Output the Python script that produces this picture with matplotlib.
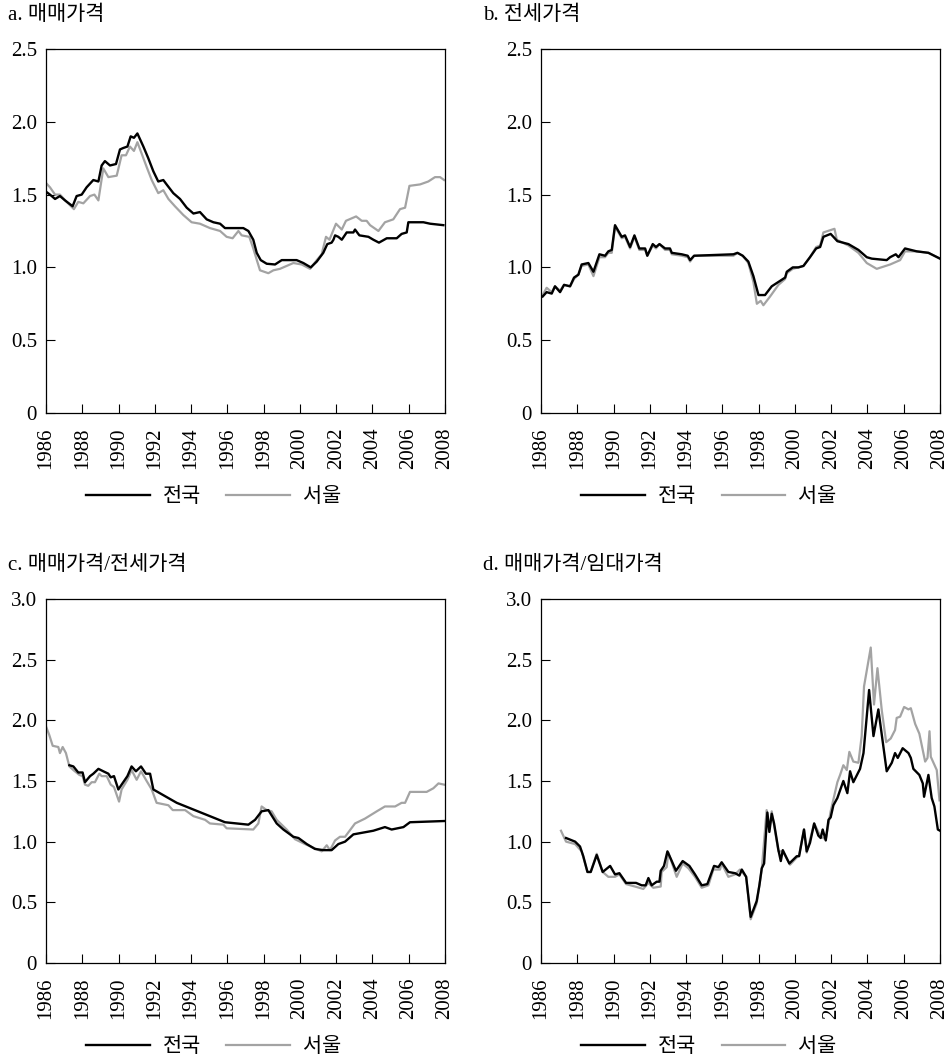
import matplotlib
matplotlib.use("Agg")
import matplotlib.pyplot as plt

plt.rcParams['font.family'] = ['Liberation Serif', 'Noto Sans CJK KR']
plt.rcParams['font.size'] = 15

# a. 매매가격
a_nat_year = [1986.00, 1986.22, 1986.50, 1986.77, 1987.05, 1987.47, 1987.69, 1987.97, 1988.24, 1988.61,
              1988.89, 1989.07, 1989.25, 1989.53, 1989.86, 1990.08, 1990.26, 1990.49, 1990.67, 1990.85,
              1991.04, 1991.37, 1991.64, 1991.92, 1992.19, 1992.47, 1992.65, 1993.02, 1993.39, 1993.76,
              1994.13, 1994.49, 1994.86, 1995.23, 1995.60, 1995.87, 1996.88, 1997.16, 1997.43, 1997.62,
              1997.84, 1998.17, 1998.63, 1999.00, 1999.82, 2000.19, 2000.60, 2000.93, 2001.29, 2001.51,
              2001.75, 2001.85, 2001.94, 2002.12, 2002.31, 2002.58, 2002.95, 2003.04, 2003.28, 2003.78,
              2004.05, 2004.36, 2004.79, 2005.34, 2005.61, 2005.89, 2005.98, 2006.81, 2007.18, 2007.91]
a_nat = [1.52, 1.50, 1.47, 1.49, 1.46, 1.42, 1.49, 1.50, 1.55, 1.60,
         1.59, 1.70, 1.73, 1.70, 1.71, 1.81, 1.82, 1.83, 1.90, 1.89,
         1.92, 1.83, 1.75, 1.66, 1.59, 1.60, 1.57, 1.51, 1.47, 1.41,
         1.37, 1.38, 1.33, 1.31, 1.30, 1.27, 1.27, 1.25, 1.19, 1.10,
         1.05, 1.025, 1.02, 1.05, 1.05, 1.03, 1.00, 1.04, 1.10, 1.16,
         1.17, 1.19, 1.22, 1.21, 1.19, 1.24, 1.24, 1.26, 1.22, 1.21,
         1.19, 1.17, 1.20, 1.20, 1.23, 1.24, 1.31, 1.31, 1.30, 1.29]
a_seo_year = [1986.00, 1986.22, 1986.50, 1986.77, 1987.14, 1987.54, 1987.78, 1988.06, 1988.43, 1988.67,
              1988.89, 1989.16, 1989.44, 1989.90, 1990.17, 1990.41, 1990.63, 1990.85, 1991.04, 1991.28,
              1991.55, 1991.83, 1992.19, 1992.47, 1992.75, 1993.11, 1993.57, 1994.03, 1994.49, 1995.04,
              1995.60, 1995.96, 1996.29, 1996.61, 1996.79, 1997.21, 1997.43, 1997.65, 1997.80, 1998.26,
              1998.54, 1998.90, 1999.64, 2000.10, 2000.56, 2000.93, 2001.20, 2001.44, 2001.63, 2001.99,
              2002.31, 2002.54, 2003.10, 2003.41, 2003.68, 2003.87, 2004.33, 2004.69, 2005.15, 2005.52,
              2005.80, 2006.04, 2006.63, 2007.08, 2007.45, 2007.73, 2007.95]
a_seo = [1.58, 1.55, 1.50, 1.50, 1.45, 1.40, 1.45, 1.44, 1.49, 1.50,
         1.46, 1.68, 1.62, 1.63, 1.77, 1.77, 1.83, 1.80, 1.86, 1.78,
         1.69, 1.60, 1.51, 1.53, 1.47, 1.42, 1.36, 1.31, 1.30, 1.27,
         1.25, 1.21, 1.20, 1.25, 1.22, 1.21, 1.13, 1.04, 0.98, 0.96,
         0.98, 0.99, 1.03, 1.02, 0.99, 1.05, 1.09, 1.21, 1.19, 1.30,
         1.26, 1.32, 1.35, 1.32, 1.32, 1.29, 1.25, 1.31, 1.33, 1.40,
         1.41, 1.56, 1.57, 1.59, 1.62, 1.62, 1.60]

# b. 전세가격
b_nat_year = [1986.09, 1986.31, 1986.59, 1986.77, 1987.05, 1987.27, 1987.60, 1987.82, 1988.06, 1988.24,
              1988.61, 1988.89, 1989.22, 1989.53, 1989.71, 1989.90, 1990.08, 1990.45, 1990.63, 1990.91,
              1991.15, 1991.42, 1991.74, 1991.86, 1992.16, 1992.34, 1992.53, 1992.84, 1993.11, 1993.21,
              1993.76, 1994.09, 1994.22, 1994.44, 1996.61, 1996.83, 1997.12, 1997.43, 1997.71, 1997.99,
              1998.35, 1998.72, 1999.09, 1999.46, 1999.55, 1999.88, 2000.19, 2000.47, 2000.83, 2001.17,
              2001.39, 2001.57, 2001.97, 2002.12, 2002.34, 2002.95, 2003.50, 2003.96, 2004.24, 2005.06,
              2005.25, 2005.56, 2005.71, 2006.07, 2006.72, 2007.36, 2008.00]
b_nat = [0.80, 0.83, 0.82, 0.87, 0.83, 0.88, 0.87, 0.93, 0.95, 1.02,
         1.03, 0.97, 1.09, 1.08, 1.11, 1.12, 1.29, 1.21, 1.22, 1.14,
         1.22, 1.13, 1.13, 1.08, 1.16, 1.14, 1.16, 1.13, 1.13, 1.10,
         1.09, 1.08, 1.05, 1.08, 1.09, 1.10, 1.08, 1.04, 0.94, 0.81,
         0.81, 0.87, 0.90, 0.93, 0.97, 1.00, 1.00, 1.01, 1.07, 1.13,
         1.14, 1.21, 1.23, 1.21, 1.18, 1.16, 1.12, 1.07, 1.06, 1.05,
         1.07, 1.09, 1.07, 1.13, 1.11, 1.10, 1.06]
b_seo_year = [1986.09, 1986.31, 1986.59, 1986.77, 1987.05, 1987.27, 1987.60, 1987.82, 1988.06, 1988.24,
              1988.61, 1988.89, 1989.22, 1989.53, 1989.71, 1989.90, 1990.08, 1990.45, 1990.63, 1990.91,
              1991.15, 1991.42, 1991.74, 1991.86, 1992.16, 1992.34, 1992.53, 1992.84, 1993.11, 1993.21,
              1993.76, 1994.09, 1994.22, 1994.44, 1996.61, 1996.83, 1997.12, 1997.43, 1997.71, 1997.90,
              1998.11, 1998.26, 1998.63, 1999.09, 1999.46, 1999.55, 1999.88, 2000.19, 2000.47, 2000.83,
              2001.17, 2001.39, 2001.57, 2002.18, 2002.31, 2002.95, 2003.50, 2003.96, 2004.51, 2005.25,
              2005.80, 2006.07, 2006.72, 2007.36, 2008.00]
b_seo = [0.81, 0.86, 0.83, 0.87, 0.84, 0.88, 0.87, 0.92, 0.95, 1.01,
         1.02, 0.94, 1.07, 1.07, 1.10, 1.10, 1.28, 1.20, 1.21, 1.13,
         1.21, 1.12, 1.12, 1.08, 1.15, 1.13, 1.16, 1.12, 1.12, 1.09,
         1.08, 1.07, 1.04, 1.08, 1.08, 1.10, 1.08, 1.03, 0.90, 0.75,
         0.77, 0.74, 0.80, 0.88, 0.92, 0.96, 0.99, 1.00, 1.01, 1.07,
         1.14, 1.15, 1.24, 1.265, 1.19, 1.15, 1.10, 1.03, 0.99, 1.02,
         1.05, 1.11, 1.11, 1.10, 1.06]

# c. 매매가격/전세가격
c_nat_year = [1987.29, 1987.51, 1987.78, 1988.02, 1988.15, 1988.43, 1988.61, 1988.89, 1989.16, 1989.44,
              1989.57, 1989.75, 1989.99, 1990.17, 1990.49, 1990.72, 1990.96, 1991.24, 1991.51, 1991.74,
              1991.92, 1993.21, 1995.87, 1997.16, 1997.53, 1997.89, 1998.26, 1998.72, 1999.09, 1999.64,
              1999.92, 2000.38, 2000.83, 2001.29, 2001.75, 2002.12, 2002.49, 2002.95, 2004.05, 2004.69,
              2005.06, 2005.71, 2006.07, 2007.95]
c_nat = [1.63, 1.62, 1.57, 1.57, 1.49, 1.54, 1.56, 1.60, 1.58, 1.56,
         1.53, 1.54, 1.43, 1.47, 1.54, 1.62, 1.58, 1.62, 1.56, 1.56,
         1.43, 1.32, 1.16, 1.14, 1.18, 1.25, 1.26, 1.15, 1.10, 1.04,
         1.03, 0.98, 0.94, 0.93, 0.93, 0.98, 1.00, 1.06, 1.09, 1.12,
         1.10, 1.12, 1.16, 1.17]
c_seo_year = [1986.00, 1986.18, 1986.37, 1986.68, 1986.77, 1986.92, 1987.10, 1987.29, 1987.51, 1987.84,
              1988.02, 1988.15, 1988.33, 1988.52, 1988.70, 1988.94, 1989.07, 1989.35, 1989.57, 1989.75,
              1990.03, 1990.17, 1990.49, 1990.72, 1991.00, 1991.24, 1991.51, 1991.83, 1992.10, 1992.75,
              1992.99, 1993.67, 1994.13, 1994.77, 1995.04, 1995.78, 1995.96, 1997.43, 1997.71, 1997.89,
              1998.17, 1998.44, 1998.72, 1999.27, 1999.73, 2000.28, 2000.74, 2001.20, 2001.48, 2001.66,
              2001.94, 2002.21, 2002.49, 2003.04, 2003.59, 2004.24, 2004.69, 2005.25, 2005.61, 2005.80,
              2006.07, 2006.99, 2007.36, 2007.64, 2007.95]
c_seo = [1.95, 1.88, 1.79, 1.78, 1.73, 1.78, 1.73, 1.62, 1.59, 1.55,
         1.54, 1.47, 1.46, 1.49, 1.49, 1.56, 1.54, 1.54, 1.47, 1.45,
         1.33, 1.43, 1.51, 1.59, 1.51, 1.58, 1.51, 1.43, 1.32, 1.30,
         1.26, 1.26, 1.21, 1.18, 1.15, 1.14, 1.11, 1.10, 1.15, 1.29,
         1.26, 1.25, 1.18, 1.10, 1.02, 0.98, 0.95, 0.92, 0.97, 0.93,
         1.01, 1.04, 1.04, 1.15, 1.19, 1.25, 1.29, 1.29, 1.32, 1.32,
         1.41, 1.41, 1.44, 1.48, 1.47]

# d. 매매가격/임대가격
d_nat_year = [1987.38, 1987.88, 1988.15, 1988.33, 1988.56, 1988.74, 1989.07, 1989.40, 1989.81, 1990.08,
              1990.32, 1990.69, 1991.24, 1991.55, 1991.77, 1991.92, 1992.10, 1992.38, 1992.53, 1992.60,
              1992.78, 1992.97, 1993.21, 1993.44, 1993.81, 1994.18, 1994.49, 1994.86, 1995.17, 1995.54,
              1995.78, 1995.96, 1996.33, 1996.70, 1996.94, 1997.07, 1997.31, 1997.56, 1997.89, 1998.04,
              1998.17, 1998.30, 1998.48, 1998.59, 1998.72, 1998.85, 1999.09, 1999.22, 1999.33, 1999.69,
              2000.10, 2000.23, 2000.50, 2000.65, 2000.83, 2001.06, 2001.29, 2001.42, 2001.53, 2001.70,
              2001.85, 2001.97, 2002.12, 2002.34, 2002.67, 2002.89, 2003.04, 2003.22, 2003.59, 2003.78,
              2004.09, 2004.33, 2004.60, 2005.06, 2005.34, 2005.52, 2005.67, 2005.94, 2006.26, 2006.39,
              2006.53, 2006.86, 2007.05, 2007.12, 2007.36, 2007.54, 2007.69, 2007.88, 2008.00]
d_nat = [1.03, 1.00, 0.96, 0.88, 0.75, 0.75, 0.89, 0.75, 0.80, 0.73,
         0.74, 0.66, 0.66, 0.64, 0.64, 0.70, 0.64, 0.67, 0.67, 0.76,
         0.80, 0.92, 0.84, 0.76, 0.84, 0.80, 0.73, 0.64, 0.65, 0.80,
         0.79, 0.83, 0.75, 0.74, 0.72, 0.77, 0.71, 0.38, 0.51, 0.64,
         0.78, 0.82, 1.24, 1.08, 1.23, 1.15, 0.93, 0.84, 0.93, 0.82,
         0.88, 0.88, 1.10, 0.92, 0.99, 1.15, 1.05, 1.03, 1.10, 1.01,
         1.18, 1.20, 1.30, 1.36, 1.50, 1.40, 1.58, 1.49, 1.60, 1.73,
         2.25, 1.87, 2.09, 1.58, 1.65, 1.73, 1.69, 1.77, 1.73, 1.69,
         1.60, 1.55, 1.48, 1.37, 1.55, 1.36, 1.29, 1.10, 1.09]
d_seo_year = [1987.10, 1987.38, 1987.88, 1988.24, 1988.56, 1988.74, 1989.07, 1989.40, 1989.71, 1990.08,
              1990.32, 1990.69, 1991.18, 1991.64, 1991.92, 1992.19, 1992.60, 1992.65, 1992.93, 1993.02,
              1993.48, 1993.81, 1994.13, 1994.49, 1994.86, 1995.23, 1995.50, 1995.87, 1995.96, 1996.33,
              1996.70, 1996.97, 1997.31, 1997.56, 1997.89, 1998.17, 1998.44, 1998.59, 1998.72, 1999.09,
              1999.33, 1999.73, 2000.23, 2000.50, 2000.65, 2001.06, 2001.42, 2001.70, 2001.97, 2002.34,
              2002.49, 2002.67, 2002.86, 2003.00, 2003.22, 2003.50, 2003.68, 2003.81, 2004.18, 2004.36,
              2004.55, 2004.79, 2005.03, 2005.28, 2005.52, 2005.61, 2005.80, 2006.02, 2006.26, 2006.39,
              2006.63, 2006.86, 2007.18, 2007.31, 2007.42, 2007.49, 2007.82, 2007.97]
d_seo = [1.09, 1.00, 0.98, 0.92, 0.75, 0.75, 0.90, 0.75, 0.71, 0.71,
         0.73, 0.65, 0.63, 0.61, 0.66, 0.62, 0.63, 0.75, 0.79, 0.91,
         0.71, 0.82, 0.78, 0.71, 0.62, 0.64, 0.77, 0.77, 0.82, 0.71,
         0.73, 0.77, 0.71, 0.36, 0.49, 0.77, 1.26, 1.10, 1.25, 0.92,
         0.92, 0.81, 0.89, 1.10, 0.91, 1.15, 1.04, 1.02, 1.25, 1.49,
         1.55, 1.63, 1.59, 1.74, 1.66, 1.65, 1.87, 2.28, 2.60, 2.13,
         2.43, 2.08, 1.82, 1.85, 1.92, 2.02, 2.03, 2.11, 2.09, 2.10,
         1.97, 1.89, 1.66, 1.69, 1.91, 1.70, 1.59, 1.34]

titles = ['a. 매매가격', 'b. 전세가격', 'c. 매매가격/전세가격', 'd. 매매가격/임대가격']
series_names = ['전국', '서울']
year_ticks = list(range(1986, 2009, 2))

panels = [
    (a_nat_year, a_nat, a_seo_year, a_seo, 2.5),
    (b_nat_year, b_nat, b_seo_year, b_seo, 2.5),
    (c_nat_year, c_nat, c_seo_year, c_seo, 3.0),
    (d_nat_year, d_nat, d_seo_year, d_seo, 3.0),
]

fig = plt.figure(figsize=(9.5, 10.63), dpi=100)
lefts = [0.0484, 0.5695, 0.0484, 0.5695]
bottoms = [0.6115, 0.6115, 0.0941, 0.0941]
title_pos = [(0.008, 0.986), (0.508, 0.986), (0.008, 0.468), (0.508, 0.468)]
gray = '#a3a3a3'

for i, (nx, ny, sx, sy, ymax) in enumerate(panels):
    ax = fig.add_axes([lefts[i], bottoms[i], 0.42, 0.3424])
    ax.plot(nx, ny, color='black', lw=1.7, label=series_names[0], zorder=3)
    ax.plot(sx, sy, color=gray, lw=1.6, label=series_names[1], zorder=2)
    ax.set_xlim(1986, 2008)
    ax.set_ylim(0, ymax)
    ax.set_xticks(year_ticks)
    ax.set_xticklabels([str(y) for y in year_ticks], rotation=90)
    yt = [k * 0.5 for k in range(int(ymax / 0.5) + 1)]
    ax.set_yticks(yt)
    ax.set_yticklabels(['0' if v == 0 else f'{v:.1f}' for v in yt])
    ax.tick_params(axis='both', direction='in', length=6.5, width=0.8, labelsize=15)
    ax.tick_params(axis='y', pad=6.5)
    ax.tick_params(axis='x', pad=10.5)
    for s in ax.spines.values():
        s.set_linewidth(0.9)
    ax.legend(loc='center', bbox_to_anchor=(0.421, -0.231), ncol=2, frameon=False,
              handlelength=3.07, handletextpad=0.62, columnspacing=1.2,
              prop={'size': 15, 'weight': 'light'})
    fig.text(title_pos[i][0], title_pos[i][1], titles[i], fontsize=15, fontweight='light',
             ha='left', va='center')

fig.savefig('out.png', dpi=100)
